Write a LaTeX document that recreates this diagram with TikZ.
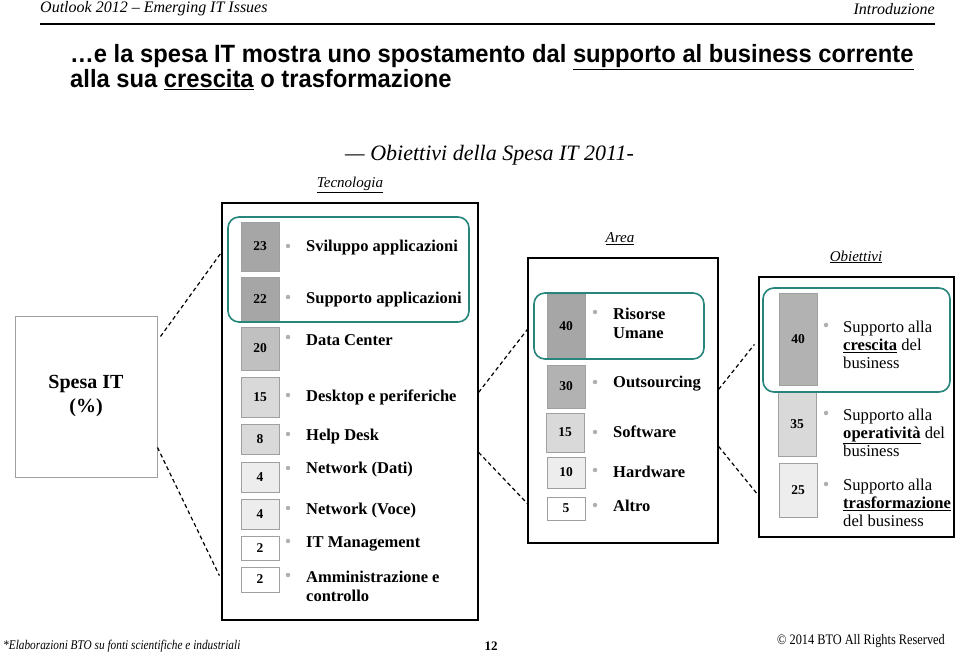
\documentclass[tikz,border=0pt]{standalone}
\usepackage{fontspec}
\setmainfont{Liberation Serif}
\newfontfamily\titlefont[FakeStretch=0.95]{Liberation Sans}
\newfontfamily\narrowserif[FakeStretch=0.85]{Liberation Serif}
\usetikzlibrary{positioning}
\usetikzlibrary{calc}

\definecolor{teal1}{RGB}{38,134,124}
\definecolor{boxgray}{RGB}{160,160,160}
\definecolor{dotgray}{RGB}{175,175,175}
\definecolor{g1}{RGB}{166,166,166}
\definecolor{g1b}{RGB}{178,178,178}
\definecolor{g2}{RGB}{192,192,192}
\definecolor{g3}{RGB}{217,217,217}
\definecolor{g4}{RGB}{237,237,237}

\begin{document}
\begin{tikzpicture}[x=1pt,y=-1pt,
	valbox/.style={draw=boxgray, line width=0.8pt, minimum width=38pt, inner sep=0pt, font=\bfseries\fontsize{13.5}{14}\selectfont},
	lbl/.style={anchor=west, inner sep=0pt, align=left, font=\bfseries\fontsize{16.5}{19}\selectfont},
	lblr/.style={anchor=west, inner sep=0pt, align=left, font=\fontsize{16.6}{18}\selectfont},
	dot/.style={circle, fill=dotgray, inner sep=0pt, minimum size=4.5pt},
	hilite/.style={draw=teal1, line width=1.6pt, rounded corners=11pt},
	frame/.style={draw=black, line width=1.2pt},
	link/.style={line width=1.2pt, dash pattern=on 4pt off 3pt},
	heading/.style={inner sep=0pt, font=\itshape\fontsize{15}{15}\selectfont}]
		\useasboundingbox (0,0) rectangle (959,655);
		% header and title
		\node (hdl) [anchor=west, inner sep=0pt, font=\itshape\fontsize{16}{16}\selectfont] at (40,9) {Outlook 2012 -- Emerging IT Issues};
		\node (hdr) [anchor=east, inner sep=0pt, font=\itshape\fontsize{16}{16}\selectfont] at (935,9) {Introduzione};
		\draw [line width=2.8pt] (40,24) -- (935,24);
		\node (title1) [anchor=base west, inner sep=0pt, font=\titlefont\bfseries\fontsize{25}{25}\selectfont] at (70,63) {\dots e la spesa IT mostra uno spostamento dal \underline{supporto al business corrente}};
		\node (title2) [anchor=base west, inner sep=0pt, font=\titlefont\bfseries\fontsize{25}{25}\selectfont] at (70,88) {alla sua \underline{crescita} o trasformazione};
		\node (sub) [anchor=west, inner sep=0pt, font=\itshape\fontsize{22}{22}\selectfont] at (345,155) {--- Obiettivi della Spesa IT 2011-};
		\node (htec) [heading] at (350,185) {\underline{Tecnologia}};
		\node (harea) [heading] at (620,239) {\underline{Area}};
		\node (hobj) [heading] at (856,257) {\underline{Obiettivi}};

		% boxes
		\node (spesa) [draw=boxgray, line width=1pt, minimum width=142pt, minimum height=161pt, align=center, font=\bfseries\fontsize{20}{24}\selectfont] at (86,396.5) {Spesa IT\\(\%)};
		\node (tec) [frame, minimum width=256pt, minimum height=417pt] at (350,411.5) {};
		\node (area) [frame, minimum width=190pt, minimum height=285pt] at (623,400.5) {};
		\node (obj) [frame, minimum width=195pt, minimum height=260pt] at (856.5,407) {};

		% tecnologia
		\node (t23) [valbox, fill=g1, minimum height=49pt] at (260,246.5) {23};
		\node (t22) [valbox, fill=g1, minimum height=45pt] at (260,299.5) {22};
		\node (t20) [valbox, fill=g2, minimum height=43pt] at (260,348.5) {20};
		\node (t15) [valbox, fill=g3, minimum height=40pt] at (260,397) {15};
		\node (t8) [valbox, fill=g3, minimum height=30pt] at (260,439) {8};
		\node (t4a) [valbox, fill=g4, minimum height=30pt] at (260,477) {4};
		\node (t4b) [valbox, fill=g4, minimum height=30pt] at (260,514) {4};
		\node (t2a) [valbox, fill=white, minimum height=24pt] at (260,548) {2};
		\node (t2b) [valbox, fill=white, minimum height=25pt] at (260,579.5) {2};
		\node (bt23) [dot] at (288,246) {};
		\node (bt22) [dot] at (288,297) {};
		\node (bt20) [dot] at (288,337) {};
		\node (bt15) [dot] at (288,395) {};
		\node (bt8) [dot] at (288,434) {};
		\node (bt4a) [dot] at (288,468) {};
		\node (bt4b) [dot] at (288,508) {};
		\node (bt2a) [dot] at (288,541) {};
		\node (bt2b) [dot] at (288,575) {};
		\node (lt23) [lbl] at (306,248) {Sviluppo applicazioni};
		\node (lt22) [lbl] at (306,300) {Supporto applicazioni};
		\node (lt20) [lbl] at (306,340) {Data Center};
		\node (lt15) [lbl] at (306,397) {Desktop e periferiche};
		\node (lt8) [lbl] at (306,437) {Help Desk};
		\node (lt4a) [lbl] at (306,470) {Network (Dati)};
		\node (lt4b) [lbl] at (306,511) {Network (Voce)};
		\node (lt2a) [lbl] at (306,544) {IT Management};
		\node (lt2b) [lbl] at (306,586.5) {Amministrazione e\\controllo};
		\node (hlt) [hilite, minimum width=241pt, minimum height=105pt] at (348.5,269.5) {};

		% area
		\node (a40) [valbox, fill=g1, minimum height=64pt] at (566,326) {40};
		\node (a30) [valbox, fill=g1b, minimum height=43pt] at (566,386.5) {30};
		\node (a15) [valbox, fill=g3, minimum height=39pt] at (565,432.5) {15};
		\node (a10) [valbox, fill=g4, minimum height=31pt] at (566,472.5) {10};
		\node (a5) [valbox, fill=white, minimum height=23pt] at (566,508.5) {5};
		\node (ba40) [dot] at (595,312) {};
		\node (ba30) [dot] at (595,382) {};
		\node (ba15) [dot] at (595,432) {};
		\node (ba10) [dot] at (595,470) {};
		\node (ba5) [dot] at (595,505) {};
		\node (la40) [lbl] at (613,323.5) {Risorse\\Umane};
		\node (la30) [lbl] at (613,384) {Outsourcing};
		\node (la15) [lbl] at (613,432) {Software};
		\node (la10) [lbl] at (613,472) {Hardware};
		\node (la5) [lbl] at (613,506) {Altro};
		\node (hla) [hilite, minimum width=170pt, minimum height=66pt] at (619,326) {};

		% obiettivi
		\node (o40) [valbox, fill=g1b, minimum height=92pt] at (798,339) {40};
		\node (o35) [valbox, fill=g3, minimum height=64pt] at (797,424) {35};
		\node (o25) [valbox, fill=g4, minimum height=54pt] at (798,490) {25};
		\node (bo40) [dot] at (826,325) {};
		\node (bo35) [dot] at (826,413) {};
		\node (bo25) [dot] at (826,484) {};
		\node (lo40) [lblr] at (843,344.5) {Supporto alla\\\underline{\textbf{crescita}} del\\business};
		\node (lo35) [lblr] at (843,433) {Supporto alla\\\underline{\textbf{operatività}} del\\business};
		\node (lo25) [lblr] at (843,503) {Supporto alla\\\underline{\textbf{trasformazione}}\\del business};
		\node (hlo) [hilite, minimum width=187pt, minimum height=104pt] at (856.5,340) {};

		% dashed links
		\coordinate (s1) at ($(spesa.north east)+(3,21)$);
		\coordinate (s2) at ($(spesa.south east)+(0,-30)$);
		\coordinate (tl1) at ($(tec.north west)+(0,50)$);
		\coordinate (tl2) at ($(tec.south west)+(-2,-45)$);
		\coordinate (tr1) at ($(tec.north east)+(0,190)$);
		\coordinate (tr2) at ($(tec.north east)+(0,250)$);
		\coordinate (al1) at ($(area.north west)+(0,72)$);
		\coordinate (al2) at ($(area.south west)+(0,-40)$);
		\coordinate (ar1) at ($(area.north east)+(0,132)$);
		\coordinate (ar2) at ($(area.north east)+(0,189)$);
		\coordinate (ol1) at ($(obj.north west)+(-4,68)$);
		\coordinate (ol2) at ($(obj.north west)+(0,219)$);
		\draw [link] (s1) -- (tl1);
		\draw [link] (s2) -- (tl2);
		\draw [link] (tr1) -- (al1);
		\draw [link] (tr2) -- (al2);
		\draw [link] (ar1) -- (ol1);
		\draw [link] (ar2) -- (ol2);

		% footer
		\node (foot) [anchor=west, inner sep=0pt, font=\narrowserif\itshape\fontsize{13.3}{13.3}\selectfont] at (3,646) {*Elaborazioni BTO su fonti scientifiche e industriali};
		\node (page) [inner sep=0pt, font=\bfseries\fontsize{13}{13}\selectfont] at (491,646) {12};
		\node (copy) [anchor=east, inner sep=0pt, font=\narrowserif\fontsize{14.5}{14.5}\selectfont] at (945,641) {© 2014 BTO All Rights Reserved};
\end{tikzpicture}
\end{document}
